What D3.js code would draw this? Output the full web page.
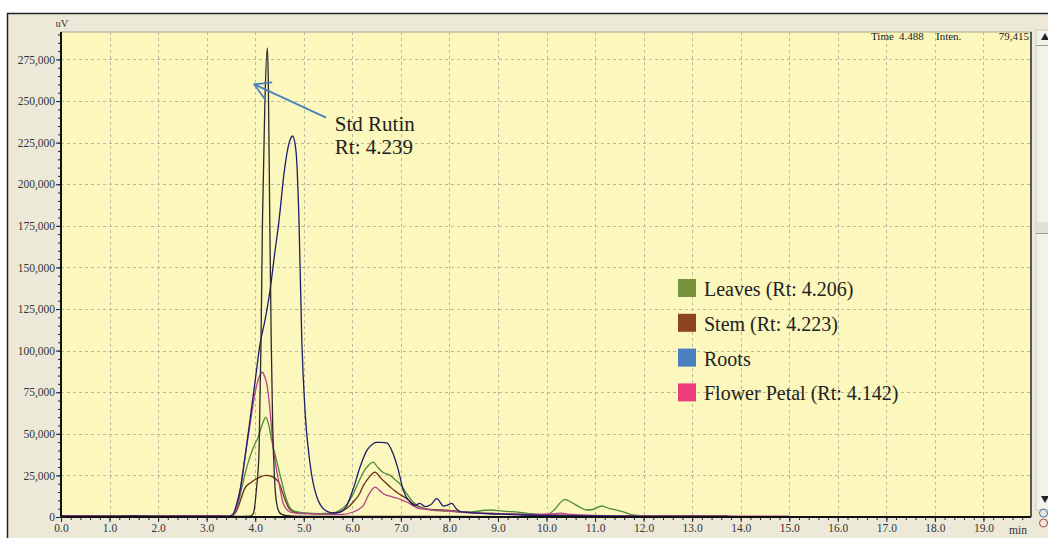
<!DOCTYPE html>
<html>
<head>
<meta charset="utf-8">
<script src="https://cdn.jsdelivr.net/npm/d3@7"></script>
<style>
  html, body { margin: 0; padding: 0; background: #fff; }
  svg { display: block; }
</style>
</head>
<body>
<div id="chart"></div>
<script>
// chromatogram traces, [time (min), intensity (uV)]

var stdRutin = [
  [0, 300], [1, 400], [2, 300], [3, 300], [3.6, 300], [3.9, 500], [3.96, 2000],
  [4.03, 18000], [4.08, 40000], [4.12, 106000], [4.15, 178000], [4.2, 250000],
  [4.25, 282000], [4.27, 262000], [4.3, 178000], [4.33, 106000], [4.36, 55000],
  [4.4, 22000], [4.45, 7000], [4.52, 2000], [4.65, 800], [5, 400], [8, 300],
  [12, 200], [15, 200]
];

var roots = [
  [0, 500], [1, 300], [1.5, 600], [2, 300], [3, 400], [3.45, 300], [3.55, 2000],
  [3.62, 8000], [3.7, 18000], [3.8, 38000], [3.9, 60000], [4.0, 82000],
  [4.1, 104000], [4.2, 118000], [4.3, 135000], [4.4, 158000], [4.49, 178000],
  [4.6, 208000], [4.7, 225000], [4.77, 229000], [4.84, 220000], [4.9, 180000],
  [4.96, 106000], [5.03, 62000], [5.13, 32000], [5.27, 12000], [5.47, 3500],
  [5.6, 2500], [5.75, 3000], [5.87, 6000], [6.02, 17000], [6.16, 30000],
  [6.3, 40000], [6.43, 44000], [6.5, 44800], [6.6, 44800], [6.71, 44500],
  [6.84, 38000], [6.95, 28000], [7.05, 16000], [7.19, 9000], [7.29, 7000],
  [7.39, 8200], [7.5, 6200], [7.62, 7500], [7.74, 11000], [7.88, 6500],
  [7.96, 7200], [8.05, 8200], [8.14, 5000], [8.22, 3200], [8.5, 2500],
  [9, 1800], [9.5, 1200], [10, 900], [10.5, 700], [11, 600], [12, 400],
  [13, 300], [15, 200]
];

var leaves = [
  [0, 300], [3, 300], [3.5, 400], [3.58, 2500], [3.65, 8000], [3.72, 17000],
  [3.8, 27000], [3.89, 36000], [3.98, 43000], [4.06, 48000], [4.15, 56000],
  [4.22, 60000], [4.28, 55000], [4.34, 46000], [4.44, 34000], [4.54, 22000],
  [4.65, 10000], [4.71, 6000], [4.8, 3500], [5, 2500], [5.3, 2000], [5.6, 2500],
  [5.74, 4000], [5.9, 8000], [6.02, 14000], [6.13, 21000], [6.23, 27000],
  [6.33, 31000], [6.43, 33000], [6.52, 30000], [6.62, 27000], [6.78, 25000],
  [6.9, 22000], [6.98, 20000], [7.12, 14000], [7.25, 9000], [7.4, 6000],
  [7.67, 4000], [8, 3500], [8.4, 3000], [8.84, 4200], [9.1, 3500], [9.45, 2800],
  [9.7, 2000], [10, 1300], [10.15, 4000], [10.28, 8500], [10.38, 10600],
  [10.5, 9000], [10.65, 6500], [10.83, 4200], [10.95, 4500], [11.14, 6600],
  [11.3, 5000], [11.44, 4200], [11.6, 3000], [11.78, 1200], [12.1, 600],
  [13, 500], [13.8, 400]
];

var stem = [
  [0, 200], [3, 300], [3.5, 300], [3.58, 2000], [3.65, 6000], [3.72, 12000],
  [3.79, 17500], [3.9, 20500], [4.0, 22500], [4.1, 24000], [4.22, 25000],
  [4.32, 24500], [4.42, 23000], [4.5, 20000], [4.56, 15000], [4.62, 10000],
  [4.7, 5000], [4.8, 3000], [5, 2200], [5.5, 2000], [5.74, 3000], [5.9, 5500],
  [6.02, 9000], [6.15, 14000], [6.23, 19000], [6.35, 24000], [6.47, 27000],
  [6.58, 23500], [6.71, 20000], [6.8, 17500], [6.91, 15000], [7.12, 11000],
  [7.25, 8000], [7.39, 6000], [7.6, 4500], [8, 4000], [8.5, 2500], [9, 2000],
  [10, 1200], [11, 800], [12, 600], [13, 700], [13.74, 700]
];

var flowerPetal = [
  [0, 800], [1, 700], [2, 700], [3, 800], [3.5, 700], [3.58, 2400], [3.64, 8000],
  [3.69, 16000], [3.75, 28000], [3.82, 42000], [3.88, 53000], [3.93, 62500],
  [4.0, 75000], [4.08, 84000], [4.15, 87000], [4.2, 84000], [4.24, 80000],
  [4.31, 62500], [4.37, 42000], [4.43, 30000], [4.48, 22000], [4.58, 8000],
  [4.72, 3000], [5, 2000], [5.5, 1600], [5.8, 1600], [6.02, 3000], [6.15, 5000],
  [6.23, 7000], [6.33, 13000], [6.47, 18000], [6.56, 16000], [6.64, 14000],
  [6.84, 12000], [7.0, 10500], [7.12, 9000], [7.39, 5000], [7.8, 4000],
  [8.2, 3000], [9, 2000], [9.8, 1500], [10.1, 1800], [10.28, 2300], [10.5, 1500],
  [11, 1000], [12, 700], [13, 600], [15, 500]
];

var legendLabels = ["Leaves (Rt: 4.206)", "Stem (Rt: 4.223)", "Roots", "Flower Petal (Rt: 4.142)"];
var legendColors = ["#77933c", "#8c4223", "#4a7fc1", "#ee3d7d"];

var yTicks = [0, 25000, 50000, 75000, 100000, 125000, 150000, 175000, 200000, 225000, 250000, 275000];
var xTicks = [0, 1, 2, 3, 4, 5, 6, 7, 8, 9, 10, 11, 12, 13, 14, 15, 16, 17, 18, 19];

var W = 1048, H = 538;
var svg = d3.select("#chart").append("svg")
  .attr("width", W)
  .attr("height", H);

// window frame
svg.append("rect")
  .attr("x", 7.5).attr("y", 13.5)
  .attr("width", W).attr("height", H)
  .attr("fill", "#ece9d8")
  .attr("stroke", "#222")
  .attr("stroke-width", 1.5);

var x = d3.scaleLinear().domain([0, 20]).range([61, 1032]);
var y = d3.scaleLinear().domain([0, 291500]).range([517, 32]);

// plot area
svg.append("rect")
  .attr("x", x(0)).attr("y", y(291500))
  .attr("width", x(20) - x(0) - 1).attr("height", y(0) - y(291500))
  .attr("fill", "#fbf7bd")
  .attr("stroke", "#a9a690")
  .attr("stroke-width", 1);

// dashed grid
var grid = svg.append("g").attr("stroke", "#bdb9a0").attr("stroke-dasharray", "3,3").attr("stroke-width", 1);
grid.selectAll(".gx").data(xTicks.slice(1)).enter().append("line")
  .attr("x1", (d) => Math.round(x(d)) + 0.5).attr("x2", (d) => Math.round(x(d)) + 0.5)
  .attr("y1", y(291500)).attr("y2", y(0));
grid.selectAll(".gy").data(yTicks.slice(1)).enter().append("line")
  .attr("y1", (d) => Math.round(y(d)) + 0.5).attr("y2", (d) => Math.round(y(d)) + 0.5)
  .attr("x1", x(0)).attr("x2", x(20) - 1);

// traces
var line = d3.line()
  .x((d) => x(d[0]))
  .y((d) => y(d[1]))
  .curve(d3.curveMonotoneX);

var traces = [
  { data: stem, color: "#6b2a14" },
  { data: leaves, color: "#4e8b3a" },
  { data: flowerPetal, color: "#b8408e" },
  { data: roots, color: "#1d1d6e" },
  { data: stdRutin, color: "#2b2b2b" }
];

svg.append("g").selectAll("path").data(traces).enter().append("path")
  .attr("d", (d) => line(d.data))
  .attr("fill", "none")
  .attr("stroke", (d) => d.color)
  .attr("stroke-width", 1.3);

// axes
var font = "'Liberation Serif', 'DejaVu Serif', serif";

var yMinor = d3.range(0, 290001, 5000);
svg.append("g")
  .attr("transform", "translate(" + x(0) + ",0)")
  .call(d3.axisLeft(y).tickValues(yMinor).tickSize(3).tickFormat(""))
  .call((g) => g.select(".domain").remove())
  .selectAll("line").attr("stroke", "#222");

var yAxis = svg.append("g")
  .attr("transform", "translate(" + x(0) + ",0)")
  .call(d3.axisLeft(y).tickValues(yTicks).tickSize(5).tickPadding(1).tickFormat(d3.format(",")));
yAxis.select(".domain").attr("stroke", "#111").attr("stroke-width", 2).attr("d", "M0," + y(291500) + "V" + y(0));
yAxis.selectAll("line").attr("stroke", "#222");
yAxis.selectAll("text").attr("font-family", font).attr("font-size", 11.5).attr("fill", "#333");

var xMinor = d3.range(0, 100).map((i) => i * 0.2);
svg.append("g")
  .attr("transform", "translate(0," + y(0) + ")")
  .call(d3.axisBottom(x).tickValues(xMinor).tickSize(3).tickFormat(""))
  .call((g) => g.select(".domain").remove())
  .selectAll("line").attr("stroke", "#222");

var xAxis = svg.append("g")
  .attr("transform", "translate(0," + y(0) + ")")
  .call(d3.axisBottom(x).tickValues(xTicks).tickSize(5).tickPadding(2).tickFormat(d3.format(".1f")));
xAxis.select(".domain").attr("stroke", "#111").attr("stroke-width", 2).attr("d", "M" + x(0) + ",0H" + (x(20) - 1));
xAxis.selectAll("line").attr("stroke", "#222");
xAxis.selectAll("text").attr("font-family", font).attr("font-size", 11.5).attr("fill", "#333");

// right border of the plot
svg.append("line")
  .attr("x1", x(20) - 1).attr("x2", x(20) - 1)
  .attr("y1", y(291500)).attr("y2", y(0))
  .attr("stroke", "#333").attr("stroke-width", 1.5);

svg.append("text")
  .attr("x", 1018).attr("y", 534)
  .attr("text-anchor", "middle")
  .attr("font-family", font).attr("font-size", 11.5).attr("fill", "#333")
  .text("min");

svg.append("text")
  .attr("x", 62).attr("y", 27)
  .attr("text-anchor", "middle")
  .attr("font-family", font).attr("font-size", 10.5).attr("fill", "#333")
  .text("uV");

// readout, top right
var readout = svg.append("g")
  .attr("font-family", font).attr("font-size", 11).attr("fill", "#222");
readout.append("text").attr("x", 871).attr("y", 40).text("Time");
readout.append("text").attr("x", 899).attr("y", 40).text("4.488");
readout.append("text").attr("x", 936).attr("y", 40).text("Inten.");
readout.append("text").attr("x", 1029).attr("y", 40).attr("text-anchor", "end").text("79,415");

// scrollbar stub on the right
var sb = svg.append("g");
sb.append("rect").attr("x", 1036).attr("y", 30).attr("width", 14).attr("height", 480)
  .attr("fill", "#f3f2ea").attr("stroke", "#cfcdc0");
sb.append("path").attr("d", "M1041,40 L1045,33 L1049,40 Z").attr("fill", "#222");
sb.append("line").attr("x1", 1036).attr("x2", 1048).attr("y1", 45.5).attr("y2", 45.5).attr("stroke", "#999");
sb.append("line").attr("x1", 1036).attr("x2", 1048).attr("y1", 233.5).attr("y2", 233.5).attr("stroke", "#999");
sb.append("rect").attr("x", 1036).attr("y", 222).attr("width", 12).attr("height", 11).attr("fill", "#e2e0d5");
sb.append("path").attr("d", "M1041,496 L1045,503 L1049,496 Z").attr("fill", "#222");
sb.append("circle").attr("cx", 1043.5).attr("cy", 513).attr("r", 4).attr("fill", "none").attr("stroke", "#4a6fb0");
sb.append("circle").attr("cx", 1043.5).attr("cy", 523).attr("r", 4).attr("fill", "none").attr("stroke", "#b04a4a");

// annotation for the standard
var tip = [x(3.98), y(260000)];
var tail = [x(5.46), y(240000)];
var ann = svg.append("g").attr("stroke", "#4a7fc1").attr("stroke-width", 1.8).attr("fill", "none");
ann.append("line").attr("x1", tail[0]).attr("y1", tail[1]).attr("x2", tip[0]).attr("y2", tip[1]);
ann.append("path").attr("d",
  "M" + (tip[0] + 18) + "," + (tip[1] - 2) + "L" + tip[0] + "," + tip[1] + "L" + (tip[0] + 11) + "," + (tip[1] + 15));

svg.append("text")
  .attr("x", x(5.64)).attr("y", y(232000))
  .attr("font-family", font).attr("font-size", 21).attr("fill", "#222")
  .text("Std Rutin");
svg.append("text")
  .attr("x", x(5.64)).attr("y", y(218000))
  .attr("font-family", font).attr("font-size", 21).attr("fill", "#222")
  .text("Rt: 4.239");

// legend
var legend = svg.append("g").attr("transform", "translate(678,279)");
var rows = legend.selectAll("g").data(legendLabels).enter().append("g")
  .attr("transform", (d, i) => "translate(0," + (i * 34.8) + ")");
rows.append("rect")
  .attr("width", 18).attr("height", 18)
  .attr("fill", (d, i) => legendColors[i]);
rows.append("text")
  .attr("x", 26).attr("y", 17)
  .attr("font-family", font).attr("font-size", 20).attr("fill", "#222")
  .text((d) => d);
</script>
</body>
</html>
